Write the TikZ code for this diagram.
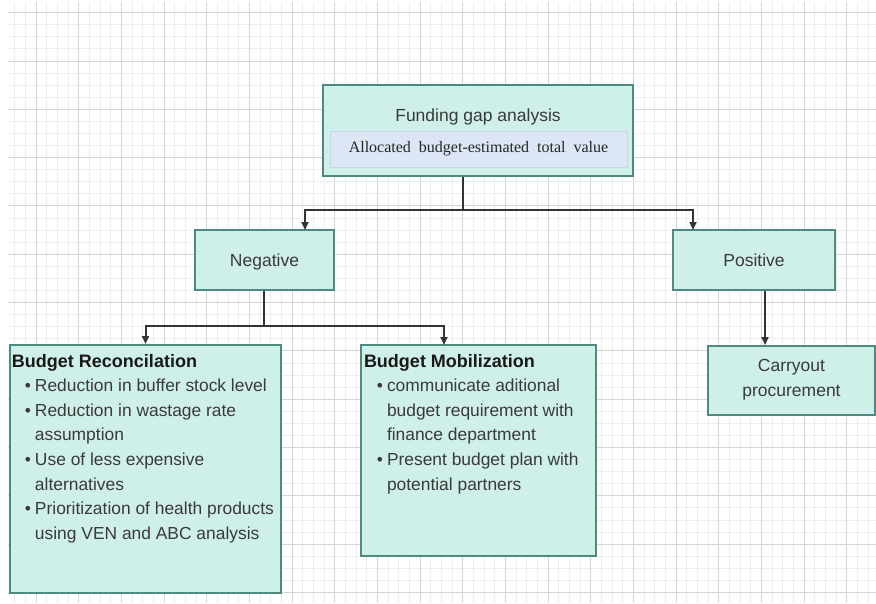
\documentclass[tikz,border=0pt]{standalone}
\usepackage{fontspec}
\setmainfont{Liberation Sans}
\newfontfamily\timesfont{Liberation Serif}
\usepackage{enumitem}
\usetikzlibrary{arrows.meta}
\definecolor{boxfill}{HTML}{CFEFE9}
\definecolor{boxline}{HTML}{4E8A80}
\definecolor{subfill}{HTML}{DCE6F4}
\definecolor{subline}{HTML}{C3D8E6}
\definecolor{inkgray}{HTML}{3A3A3A}
\definecolor{gridminor}{HTML}{EDEDED}
\definecolor{gridmajor}{HTML}{D6D6D6}
\tikzset{
  box/.style={draw=boxline, line width=2pt, fill=boxfill, inner sep=0pt,
    text=inkgray, font=\fontsize{17.5}{25}\selectfont, align=center},
  subbox/.style={draw=subline, line width=1pt, fill=subfill, inner sep=0pt,
    text=black!85, font=\timesfont\fontsize{16}{18}\selectfont},
  link/.style={draw=black!80, line width=2pt},
  arr/.style={link, -{Triangle[length=8pt,width=7pt]}},
}
\newenvironment{bulletlist}{\begin{itemize}[leftmargin=23pt,labelsep=4pt,
  itemsep=0pt,topsep=0pt,parsep=0pt,partopsep=0pt,label=\textbullet]}{\end{itemize}}
\newcommand{\listtext}[4]{\parbox[c][#2][t]{#1}{\raggedright
  \vspace*{6pt}\fontsize{17.4}{24.6}\selectfont{\bfseries\fontsize{18}{24.6}\selectfont
  \color{black!90}#3\par}\color{inkgray}#4}}
\begin{document}
\begin{tikzpicture}[x=1pt, y=-1pt]
  \useasboundingbox[fill=white] (0,0) rectangle (876,603);
  % graph paper
  \foreach \k in {-2,...,78}
    \draw[gridminor, line width=1pt] ({36+\k*10.67},2) -- ({36+\k*10.67},603);
  \foreach \k in {0,...,48}
    \draw[gridminor, line width=1pt] (8,{12.7+\k*12.08}) -- (876,{12.7+\k*12.08});
  \foreach \k in {0,...,19}
    \draw[gridmajor, line width=1pt] ({36+\k*42.67},2) -- ({36+\k*42.67},603);
  \foreach \k in {0,...,12}
    \draw[gridmajor, line width=1pt] (8,{12.7+\k*48.3}) -- (876,{12.7+\k*48.3});

  % boxes
  \node[box, minimum width=310pt, minimum height=91pt] (fund) at (478,130.5) {};
  \node[text=inkgray, font=\fontsize{17.5}{20}\selectfont] (fundtitle) at (478,117) {Funding gap analysis};
  \node[subbox, minimum width=297pt, minimum height=36pt] (alloc) at (478.5,149)
    {Allocated\ \ budget-estimated\ \ total\ \ value};
  \node[box, minimum width=139pt, minimum height=60pt, text depth=0pt] (neg) at (264.5,260) {Negative};
  \node[box, minimum width=162pt, minimum height=60pt, text depth=0pt] (pos) at (754,260) {Positive};
  \node[box, minimum width=271pt, minimum height=248pt, align=left] (recon) at (145.5,469)
    {\listtext{267pt}{242pt}{Budget Reconcilation}{%
      \begin{bulletlist}
        \item Reduction in buffer stock level
        \item Reduction in wastage rate\newline assumption
        \item Use of less expensive\newline alternatives
        \item Prioritization of health products\newline using VEN and ABC analysis
      \end{bulletlist}}};
  \node[box, minimum width=235pt, minimum height=211pt, align=left] (mobil) at (478.5,450.5)
    {\listtext{229pt}{205pt}{Budget Mobilization}{%
      \begin{bulletlist}
        \item communicate aditional\newline budget requirement with\newline finance department
        \item Present budget plan with\newline potential partners
      \end{bulletlist}}};
  \node[box, minimum width=167pt, minimum height=69pt] (carry) at (791.5,380)
    {Carryout\\procurement};

  % connectors
  \coordinate (forkA) at (463,210);
  \coordinate (negtop) at (305,230);
  \coordinate (postop) at (693,230);
  \coordinate (forkB) at (264,326);
  \coordinate (mobiltop) at (444,345);
  \coordinate (carrytop) at (765,345);
  \draw[link] (fund.south -| forkA) -- (forkA);
  \draw[arr] (forkA) -| (negtop);
  \draw[arr] (forkA) -| (postop);
  \draw[link] (neg.south -| forkB) -- (forkB);
  \draw[arr] (forkB) -| (recon.north);
  \draw[arr] (forkB) -| (mobiltop);
  \draw[arr] (pos.south -| carrytop) -- (carrytop);
\end{tikzpicture}
\end{document}
